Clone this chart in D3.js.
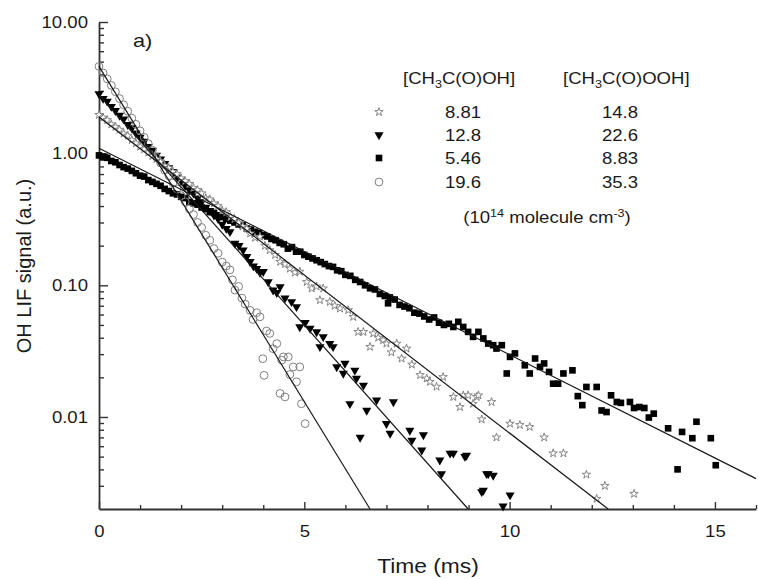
<!DOCTYPE html>
<html>
<head>
<meta charset="utf-8">
<script src="https://cdn.jsdelivr.net/npm/d3@7"></script>
<style>
  body { margin: 0; background: #fff; }
  text { font-family: "Liberation Sans", Arial, sans-serif; fill: #1a1a1a; }
</style>
</head>
<body>
<svg id="chart" width="758" height="579"></svg>
<script>
// OH decay traces, [time (ms), LIF signal (a.u.)]
const starData = [
  [0,1.97],[0.1,1.88],[0.2,1.80],[0.3,1.67],[0.4,1.60],[0.5,1.52],[0.6,1.42],[0.7,1.37],[0.8,1.27],[0.9,1.20],
  [1.0,1.13],[1.1,1.08],[1.2,1.02],[1.3,0.96],[1.4,0.91],[1.5,0.87],[1.6,0.81],[1.7,0.78],[1.8,0.73],[1.9,0.70],
  [2.0,0.65],[2.1,0.62],[2.2,0.59],[2.3,0.55],[2.4,0.53],[2.5,0.50],[2.6,0.46],[2.7,0.45],[2.8,0.42],[2.9,0.40],
  [3.0,0.37],[3.1,0.36],[3.2,0.33],[3.3,0.32],[3.4,0.30],[3.5,0.28],[3.6,0.27],
  [3.68,0.248],[3.8,0.23],[3.92,0.234],[4.04,0.20],[4.16,0.185],[4.29,0.17],[4.41,0.151],[4.53,0.145],[4.65,0.134],
  [4.77,0.125],[4.89,0.127],[5.06,0.106],[5.18,0.0947],[5.30,0.098],[5.38,0.0771],[5.46,0.0947],[5.62,0.075],
  [5.74,0.070],[5.87,0.0667],[6.07,0.0648],[6.19,0.0576],[6.31,0.0443],[6.44,0.0443],[6.60,0.0341],[6.68,0.0431],
  [6.80,0.040],[6.92,0.0383],[7.00,0.0361],[7.12,0.031],[7.25,0.0361],[7.37,0.0278],[7.49,0.0331],[7.62,0.025],
  [7.82,0.0208],[7.98,0.0196],[8.06,0.0185],[8.22,0.017],[8.38,0.0201],[8.63,0.0142],[8.79,0.0119],[8.87,0.0146],
  [8.99,0.0146],[9.11,0.0126],[9.20,0.0142],[9.24,0.0146],[9.32,0.0096],[9.56,0.0130],[9.68,0.0070],[10.01,0.0089],
  [10.25,0.0087],[10.49,0.0084],[10.84,0.0070],[11.06,0.0053],[11.31,0.0053],[11.87,0.00365],[12.12,0.00239],
  [12.32,0.0030],[13.03,0.00261]
];
const triData = [
  [0,2.85],[0.1,2.62],[0.2,2.50],[0.3,2.28],[0.4,2.12],[0.5,1.95],[0.6,1.83],[0.7,1.66],[0.8,1.57],[0.9,1.43],
  [1.0,1.33],[1.1,1.24],[1.2,1.13],[1.3,1.06],[1.4,0.97],[1.5,0.91],[1.6,0.84],[1.7,0.78],[1.8,0.73],[1.9,0.66],
  [2.0,0.62],[2.1,0.57],[2.2,0.53],[2.3,0.50],[2.4,0.46],[2.5,0.43],[2.6,0.39],[2.7,0.37],[2.8,0.34],[2.9,0.32],
  [3.0,0.29],[3.1,0.27],
  [3.19,0.255],[3.31,0.208],[3.41,0.20],[3.51,0.185],[3.60,0.165],[3.68,0.151],[3.76,0.14],[3.84,0.134],[3.92,0.125],
  [4.00,0.127],[4.12,0.106],[4.24,0.0919],[4.33,0.088],[4.41,0.0975],[4.53,0.080],[4.69,0.075],[4.81,0.0687],
  [4.89,0.0483],[5.02,0.052],[5.14,0.047],[5.30,0.0443],[5.38,0.0341],[5.46,0.0406],[5.62,0.0361],[5.70,0.0341],
  [5.79,0.024],[5.95,0.0214],[5.99,0.0255],[6.11,0.0126],[6.23,0.0226],[6.27,0.0196],[6.36,0.0070],[6.44,0.0174],
  [6.52,0.0112],[6.76,0.0134],[7.00,0.0089],[7.09,0.0075],[7.17,0.0130],[7.57,0.0079],[7.62,0.00665],[7.86,0.0056],
  [7.90,0.0073],[8.30,0.0047],[8.34,0.0037],[8.55,0.0053],[8.63,0.0053],[8.91,0.0050],[8.95,0.0051],[9.32,0.0027],
  [9.36,0.00277],[9.44,0.0037],[9.48,0.0037],[9.60,0.0036],[9.84,0.0021],[10.01,0.00255]
];
const squareData = [
  [0,0.97],[0.1,0.95],[0.2,0.93],[0.3,0.88],[0.4,0.86],[0.5,0.82],[0.6,0.79],[0.7,0.77],[0.8,0.74],[0.9,0.71],
  [1.0,0.68],[1.1,0.67],[1.2,0.63],[1.3,0.61],[1.4,0.59],[1.5,0.57],[1.6,0.54],[1.7,0.52],[1.8,0.50],[1.9,0.49],
  [2.0,0.47],[2.1,0.46],[2.2,0.43],[2.3,0.42],[2.4,0.41],[2.5,0.39],[2.6,0.38],[2.7,0.36],[2.8,0.355],[2.9,0.34],
  [3.0,0.33],[3.1,0.32],[3.2,0.31],[3.3,0.30],[3.4,0.29],[3.5,0.285],[3.6,0.27],[3.7,0.265],[3.8,0.255],[3.9,0.25],
  [4.0,0.24],[4.1,0.235],[4.2,0.225],[4.3,0.22],[4.4,0.21],[4.5,0.205],[4.6,0.19],[4.7,0.195],[4.8,0.18],[4.9,0.18],
  [5.0,0.17],[5.1,0.165],[5.2,0.16],[5.3,0.155],[5.4,0.15],[5.5,0.145],[5.6,0.14],[5.7,0.138],[5.8,0.13],[5.9,0.128],
  [6.0,0.12],[6.12,0.118],[6.24,0.110],[6.36,0.106],[6.48,0.100],[6.60,0.095],[6.72,0.093],[6.84,0.086],[6.96,0.083],
  [7.04,0.073],[7.08,0.081],[7.20,0.078],[7.32,0.071],[7.44,0.069],[7.56,0.067],[7.68,0.062],[7.80,0.061],[7.92,0.058],
  [8.04,0.055],[8.16,0.057],[8.28,0.052],[8.40,0.050],[8.52,0.051],
  [8.63,0.0483],[8.75,0.0528],[8.87,0.0483],[8.99,0.0443],[9.11,0.0406],[9.24,0.0443],[9.36,0.0395],[9.48,0.0361],
  [9.60,0.0351],[9.68,0.0331],[9.81,0.0351],[9.93,0.0214],[10.01,0.0286],[10.13,0.0304],[10.37,0.0247],[10.49,0.0214],
  [10.62,0.0278],[10.74,0.0240],[10.84,0.0255],[10.96,0.0220],[11.06,0.0179],[11.18,0.0179],[11.31,0.0214],
  [11.53,0.0226],[11.66,0.0144],[11.77,0.0123],[11.87,0.0169],[12.12,0.0169],[12.24,0.0112],[12.36,0.0109],
  [12.47,0.0146],[12.61,0.0130],[12.71,0.0128],[12.93,0.0130],[13.03,0.0117],[13.16,0.0119],[13.28,0.0117],
  [13.39,0.0099],[13.51,0.0106],[13.86,0.0082],[14.09,0.0040],[14.20,0.0077],[14.45,0.0069],[14.55,0.0092],
  [14.90,0.0069],[15.02,0.0043]
];
const circleData = [
  [0,4.6],[0.1,4.1],[0.2,3.7],[0.3,3.3],[0.4,2.95],[0.5,2.62],[0.6,2.35],[0.7,2.10],[0.8,1.86],[0.9,1.67],
  [1.0,1.49],[1.1,1.33],[1.2,1.19],[1.3,1.06],[1.4,0.94],[1.5,0.85],[1.6,0.75],[1.7,0.68],[1.8,0.60],[1.9,0.54],
  [2.0,0.48],[2.1,0.43],[2.2,0.38],[2.3,0.345],[2.4,0.30],[2.5,0.275],[2.6,0.24],[2.7,0.22],[2.8,0.19],[2.9,0.175],
  [3.0,0.15],[3.1,0.14],
  [3.19,0.131],[3.25,0.11],[3.31,0.092],[3.40,0.098],[3.48,0.08],[3.56,0.072],[3.68,0.0645],[3.75,0.055],[3.84,0.062],
  [3.92,0.0576],[3.99,0.0277],[4.02,0.0207],[4.08,0.045],[4.16,0.0431],[4.24,0.033],[4.33,0.0361],[4.41,0.0151],
  [4.45,0.027],[4.49,0.0286],[4.53,0.0142],[4.61,0.0286],[4.65,0.021],[4.73,0.024],[4.81,0.0185],[4.89,0.024],
  [4.93,0.0126],[5.02,0.0089]
];

// single-exponential fits, drawn as straight lines between two points on the log axis
const starFit = [[0,1.9],[12.4,0.002]];
const triFit = [[0,2.8],[8.99,0.002]];
const squareFit = [[0,1.1],[16,0.0034]];
const circleFit = [[0,4.6],[6.6,0.002]];

const acidConc = ["8.81","12.8","5.46","19.6"];
const peracidConc = ["14.8","22.6","8.83","35.3"];

const xTicks = [0,5,10,15];
const xMinor = [1,2,3,4,6,7,8,9,11,12,13,14,16];
const yTicks = [0.01,0.1,1,10];

const SX = 1.14; // the picture is a little wider than tall, text looks stretched

const svg = d3.select("#chart");
const x = d3.scaleLinear().domain([0,16]).range([99,756]);
const y = d3.scaleLog().domain([0.002,10]).range([509,22]);

// minor y ticks, 2..9 of each decade
let yMinor = [];
[0.001,0.01,0.1,1].forEach(function(dec){
  for (let k = 2; k <= 9; k++) {
    const v = +(k*dec).toPrecision(3);
    if (v > 0.002 && v < 10) yMinor.push(v);
  }
});

function styleAxis(g) {
  g.selectAll("path.domain").attr("stroke","#333").attr("stroke-width",1.8);
  g.selectAll(".tick line").attr("stroke","#333").attr("stroke-width",1.4);
  g.selectAll(".tick text").attr("font-size","16.3px").attr("font-family",null).attr("fill","#1a1a1a");
}

const gxMinor = svg.append("g").attr("transform","translate(0,509)")
  .call(d3.axisBottom(x).tickValues(xMinor).tickSize(-4).tickFormat(""));
gxMinor.select(".domain").remove();
styleAxis(gxMinor);

const gx = svg.append("g").attr("transform","translate(0,509)")
  .call(d3.axisBottom(x).tickValues(xTicks).tickFormat(d3.format("d")).tickSize(-7).tickSizeOuter(0).tickPadding(16));
styleAxis(gx);

const gyMinor = svg.append("g").attr("transform","translate(99,0)")
  .call(d3.axisLeft(y).tickValues(yMinor).tickSize(-5).tickFormat(""));
gyMinor.select(".domain").remove();
styleAxis(gyMinor);

const gy = svg.append("g").attr("transform","translate(99,0)")
  .call(d3.axisLeft(y).tickValues(yTicks).tickFormat(d3.format(".2f")).tickSize(-9).tickSizeOuter(0).tickPadding(11));
styleAxis(gy);

// markers
const starSym = d3.symbol().type(d3.symbolStar).size(22);
const triSym = d3.symbol().type(d3.symbolTriangle).size(36);
const sqSym = d3.symbol().type(d3.symbolSquare).size(44);

function drawSquare(g, px, py) {
  g.append("path").attr("d", sqSym()).attr("transform","translate("+px+","+py+")").attr("fill","#000");
}
function drawTri(g, px, py) {
  g.append("path").attr("d", triSym()).attr("transform","translate("+px+","+py+") rotate(180)").attr("fill","#000");
}
function drawStar(g, px, py) {
  g.append("path").attr("d", starSym()).attr("transform","translate("+px+","+py+")")
    .attr("fill","#fff").attr("stroke","#7a7a7a").attr("stroke-width",0.9);
}
function drawCircle(g, px, py) {
  g.append("circle").attr("cx",px).attr("cy",py).attr("r",3.9)
    .attr("fill","none").attr("stroke","#808080").attr("stroke-width",1);
}

const series = [
  {data: squareData, fit: squareFit, draw: drawSquare},
  {data: triData, fit: triFit, draw: drawTri},
  {data: starData, fit: starFit, draw: drawStar},
  {data: circleData, fit: circleFit, draw: drawCircle}
];

const pts = svg.append("g");
series.forEach(function(s){
  const g = pts.append("g");
  s.data.forEach(function(d){ s.draw(g, x(d[0]), y(d[1])); });
});

const line = d3.line().x(d => x(d[0])).y(d => y(d[1]));
svg.append("g").selectAll("path")
  .data(series)
  .enter().append("path")
  .attr("d", d => line(d.fit))
  .attr("fill","none")
  .attr("stroke","#1a1a1a")
  .attr("stroke-width",1.2);

// axis titles
svg.append("text").attr("x",428).attr("y",573).attr("text-anchor","middle")
  .attr("font-size","20px").text("Time (ms)");
svg.append("text").attr("transform","translate(31,266) rotate(-90)").attr("text-anchor","middle")
  .attr("font-size","20px").attr("class","nostretch").text("OH LIF signal (a.u.)");

svg.append("text").attr("x",133).attr("y",47).attr("font-size","19px").text("a)");

// legend table
const leg = svg.append("g").attr("font-size","16.3px");
function chemLabel(px, ending) {
  const t = leg.append("text").attr("x",px).attr("y",84);
  t.append("tspan").text("[CH");
  t.append("tspan").attr("font-size","11px").attr("dy",4).text("3");
  t.append("tspan").attr("dy",-4).text(ending);
}
chemLabel(403, "C(O)OH]");
chemLabel(563, "C(O)OOH]");

const rowY = [112,135,158,182];
const legDraw = [drawStar, drawTri, drawSquare, drawCircle];
rowY.forEach(function(ry, i){
  legDraw[i](leg, 379, ry);
  leg.append("text").attr("x",463).attr("y",ry+6).attr("text-anchor","middle").text(acidConc[i]);
  leg.append("text").attr("x",620).attr("y",ry+6).attr("text-anchor","middle").text(peracidConc[i]);
});

const foot = leg.append("text").attr("x",547).attr("y",223).attr("text-anchor","middle");
foot.append("tspan").text("(10");
foot.append("tspan").attr("font-size","11px").attr("dy",-6).text("14");
foot.append("tspan").attr("dy",6).text(" molecule cm");
foot.append("tspan").attr("font-size","11px").attr("dy",-6).text("-3");
foot.append("tspan").attr("dy",6).text(")");

// widen glyphs to match the stretched look of the original
svg.selectAll("text").each(function(){
  if (this.getAttribute("class") === "nostretch") return;
  const L = this.getComputedTextLength();
  if (L > 0) {
    this.setAttribute("textLength", (L*SX).toFixed(1));
    this.setAttribute("lengthAdjust","spacingAndGlyphs");
  }
});
</script>
</body>
</html>
